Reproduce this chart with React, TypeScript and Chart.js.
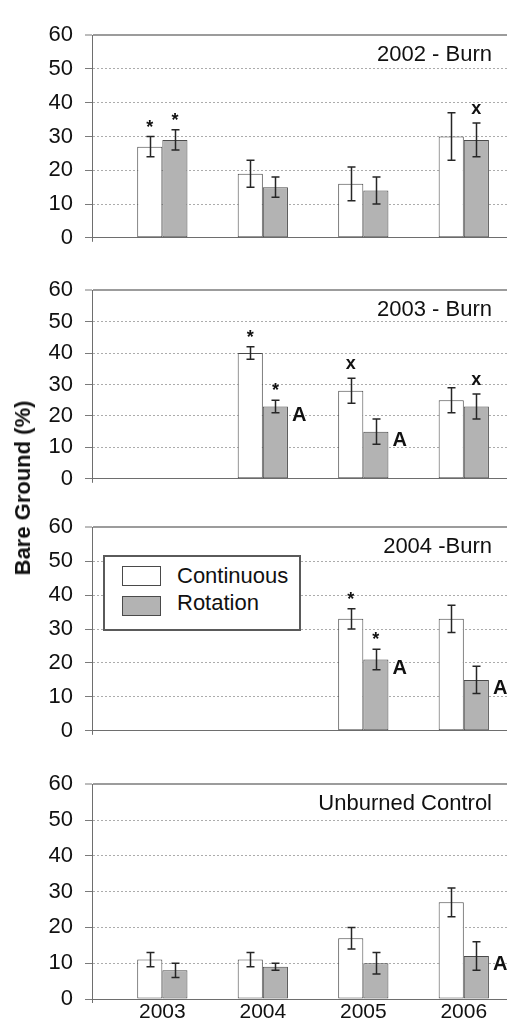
import React, { useEffect, useRef } from 'react';
import { Chart, registerables } from 'chart.js';

Chart.register(...registerables);

// ---------------- data ----------------
const years = ['2003', '2004', '2005', '2006'];
const panelTitles = ['2002 - Burn', '2003 - Burn', '2004 -Burn', 'Unburned Control'];
const seriesNames = ['Continuous', 'Rotation'];
const yAxisTitle = 'Bare Ground (%)';

const contMeans: (number | null)[][] = [
  [27, 19, 16, 30],
  [null, 40, 28, 25],
  [null, null, 33, 33],
  [11, 11, 17, 27],
];
const contErrs: (number | null)[][] = [
  [3, 4, 5, 7],
  [null, 2, 4, 4],
  [null, null, 3, 4],
  [2, 2, 3, 4],
];
const rotMeans: (number | null)[][] = [
  [29, 15, 14, 29],
  [null, 23, 15, 23],
  [null, null, 21, 15],
  [8, 9, 10, 12],
];
const rotErrs: (number | null)[][] = [
  [3, 3, 4, 5],
  [null, 2, 4, 4],
  [null, null, 3, 4],
  [2, 1, 3, 4],
];
const contMarks: string[][] = [
  ['*', '', '', ''],
  ['', '*', 'x', ''],
  ['', '', '*', ''],
  ['', '', '', ''],
];
const rotMarks: string[][] = [
  ['*', '', '', 'x'],
  ['', '*', '', 'x'],
  ['', '', '*', ''],
  ['', '', '', ''],
];
const rotLetters: string[][] = [
  ['', '', '', ''],
  ['', 'A', 'A', ''],
  ['', '', 'A', 'A'],
  ['', '', '', 'A'],
];

// ---------------- layout ----------------
const FONT = "'Liberation Sans', Arial, Helvetica, sans-serif";
const W = 507;
const X_MIN = -0.7;
const X_MAX = 3.43;
const panelTop = [24, 279, 516, 773];
const panelBottom = [249, 490, 742, 999];
const PAD_TOP = 14;
const X_H = [14, 14, 14, 30];

const errorBarPlugin = {
  id: 'errorBars',
  afterDatasetsDraw(chart: any) {
    const { ctx } = chart;
    const ys = chart.scales.y;
    chart.data.datasets.forEach((ds: any, di: number) => {
      const meta = chart.getDatasetMeta(di);
      meta.data.forEach((el: any, j: number) => {
        const v = ds.data[j].y;
        if (v == null) return;
        const e = ds.errors[j] || 0;
        const top = ys.getPixelForValue(v + e);
        const bot = ys.getPixelForValue(v - e);
        const x = Math.round(el.x) + 0.5;
        ctx.save();
        ctx.strokeStyle = '#262626';
        ctx.lineWidth = 1.5;
        ctx.beginPath();
        ctx.moveTo(x, top);
        ctx.lineTo(x, bot);
        ctx.moveTo(x - 4, top);
        ctx.lineTo(x + 4, top);
        ctx.moveTo(x - 4, bot);
        ctx.lineTo(x + 4, bot);
        ctx.stroke();

        ctx.fillStyle = '#111';
        const mark = ds.marks ? ds.marks[j] : '';
        if (mark) {
          ctx.font = `bold 18px ${FONT}`;
          ctx.textAlign = 'center';
          ctx.textBaseline = 'alphabetic';
          const m = ctx.measureText(mark);
          const gap = mark === '*' ? 10 : 9;
          const baseline = top - gap - m.actualBoundingBoxDescent;
          ctx.fillText(mark, el.x, baseline);
        }
        const letter = ds.letters ? ds.letters[j] : '';
        if (letter) {
          ctx.font = `bold 20px ${FONT}`;
          ctx.textAlign = 'left';
          ctx.textBaseline = 'alphabetic';
          const m = ctx.measureText(letter);
          const barTop = ys.getPixelForValue(v);
          ctx.fillText(letter, el.x + el.width / 2 + 4, barTop + m.actualBoundingBoxAscent);
        }
        ctx.restore();
      });
    });
  },
};

const panelTitlePlugin = {
  id: 'panelTitle',
  afterDraw(chart: any, _args: any, opts: any) {
    const { ctx, chartArea } = chart;
    ctx.save();
    // small extension of the vertical axis below the origin
    ctx.strokeStyle = '#6e6e6e';
    ctx.lineWidth = 1;
    ctx.beginPath();
    ctx.moveTo(chartArea.left + 0.5, chartArea.bottom);
    ctx.lineTo(chartArea.left + 0.5, chartArea.bottom + 4);
    ctx.stroke();

    ctx.font = `22px ${FONT}`;
    ctx.fillStyle = '#111';
    ctx.textAlign = 'right';
    ctx.textBaseline = 'middle';
    ctx.fillText(opts.text, chartArea.right - 15, chartArea.top + 20);
    ctx.restore();
  },
};

function Panel({ index }: { index: number }) {
  const ref = useRef<HTMLCanvasElement>(null);
  const h = panelBottom[index] - panelTop[index] + PAD_TOP + X_H[index];
  const isLast = index === 3;

  useEffect(() => {
    if (!ref.current) return;
    const chart = new Chart(ref.current, {
      type: 'bar',
      data: {
        datasets: [
          {
            label: seriesNames[0],
            data: years.map((_, j) => ({ x: j, y: contMeans[index][j] })),
            backgroundColor: '#ffffff',
            borderColor: '#4a4a4a',
            borderWidth: 1,
            borderSkipped: false,
            categoryPercentage: 0.5,
            barPercentage: 1,
            errors: contErrs[index],
            marks: contMarks[index],
          } as any,
          {
            label: seriesNames[1],
            data: years.map((_, j) => ({ x: j, y: rotMeans[index][j] })),
            backgroundColor: '#b3b3b3',
            borderColor: '#4a4a4a',
            borderWidth: 1,
            borderSkipped: false,
            categoryPercentage: 0.5,
            barPercentage: 1,
            errors: rotErrs[index],
            marks: rotMarks[index],
            letters: rotLetters[index],
          } as any,
        ],
      },
      options: {
        animation: false,
        responsive: false,
        maintainAspectRatio: false,
        layout: { padding: { top: PAD_TOP, left: 0, right: 0, bottom: 0 } },
        plugins: {
          legend: { display: false },
          tooltip: { enabled: false },
          panelTitle: { text: panelTitles[index] },
        } as any,
        scales: {
          x: {
            type: 'linear',
            min: X_MIN,
            max: X_MAX,
            offset: false,
            grid: { display: false, drawTicks: false },
            border: { display: true, color: '#6e6e6e', width: 1 },
            ticks: {
              display: isLast,
              autoSkip: false,
              padding: 1,
              color: '#111',
              font: { family: FONT, size: 21 },
              callback: (v: any) => years[v] ?? '',
            },
            afterBuildTicks: (s: any) => {
              s.ticks = years.map((_, j) => ({ value: j }));
            },
            afterFit: (s: any) => {
              s.height = X_H[index];
            },
          } as any,
          y: {
            min: 0,
            max: 60,
            ticks: {
              stepSize: 10,
              padding: 12,
              color: '#111',
              font: { family: FONT, size: 22 },
            },
            grid: {
              color: (c: any) =>
                c.tick && c.tick.value === 60 ? '#9c9c9c' : c.tick && c.tick.value === 0 ? '#6e6e6e' : '#acacac',
              lineWidth: (c: any) => (c.tick && c.tick.value === 60 ? 2 : 1),
              tickLength: 7,
              tickColor: '#7a7a7a',
              tickWidth: 1,
            },
            border: {
              display: true,
              color: '#6e6e6e',
              width: 1,
              dash: (c: any) => (c.tick && c.tick.value > 0 && c.tick.value < 60 ? [2, 2] : []),
            },
            afterFit: (s: any) => {
              s.width = 92;
            },
          } as any,
        },
      },
      plugins: [errorBarPlugin, panelTitlePlugin],
    });
    return () => chart.destroy();
  }, [index]);

  return (
    <canvas
      ref={ref}
      width={W}
      height={h}
      style={{ position: 'absolute', left: 0, top: panelTop[index] - PAD_TOP, width: W, height: h, display: 'block' }}
    />
  );
}

export default function App() {
  return (
    <div
      style={{
        position: 'absolute',
        left: 0,
        top: 0,
        width: W,
        height: 1019,
        overflow: 'hidden',
        background: '#fff',
        fontFamily: FONT,
      }}
    >
      {[0, 1, 2, 3].map((i) => (
        <Panel key={i} index={i} />
      ))}
      <div
        style={{
          position: 'absolute',
          left: 23,
          top: 488,
          transform: 'translate(-50%, -50%) rotate(-90deg)',
          whiteSpace: 'nowrap',
          fontWeight: 'bold',
          fontSize: 22,
          lineHeight: '26px',
          color: '#111',
        }}
      >
        {yAxisTitle}
      </div>
      <div
        style={{
          position: 'absolute',
          left: 103,
          top: 555,
          width: 198,
          height: 76,
          boxSizing: 'border-box',
          border: '2px solid #5a5a5a',
          background: '#fff',
        }}
      >
        {seriesNames.map((name, k) => (
          <div key={name}>
            <div
              style={{
                position: 'absolute',
                left: 17,
                top: k === 0 ? 9 : 39,
                width: 39,
                height: 20,
                boxSizing: 'border-box',
                border: '1px solid #4a4a4a',
                background: k === 0 ? '#ffffff' : '#b3b3b3',
              }}
            />
            <div
              style={{
                position: 'absolute',
                left: 72,
                top: k === 0 ? 6 : 33,
                fontSize: 22,
                lineHeight: '26px',
                color: '#111',
                whiteSpace: 'nowrap',
              }}
            >
              {name}
            </div>
          </div>
        ))}
      </div>
    </div>
  );
}
